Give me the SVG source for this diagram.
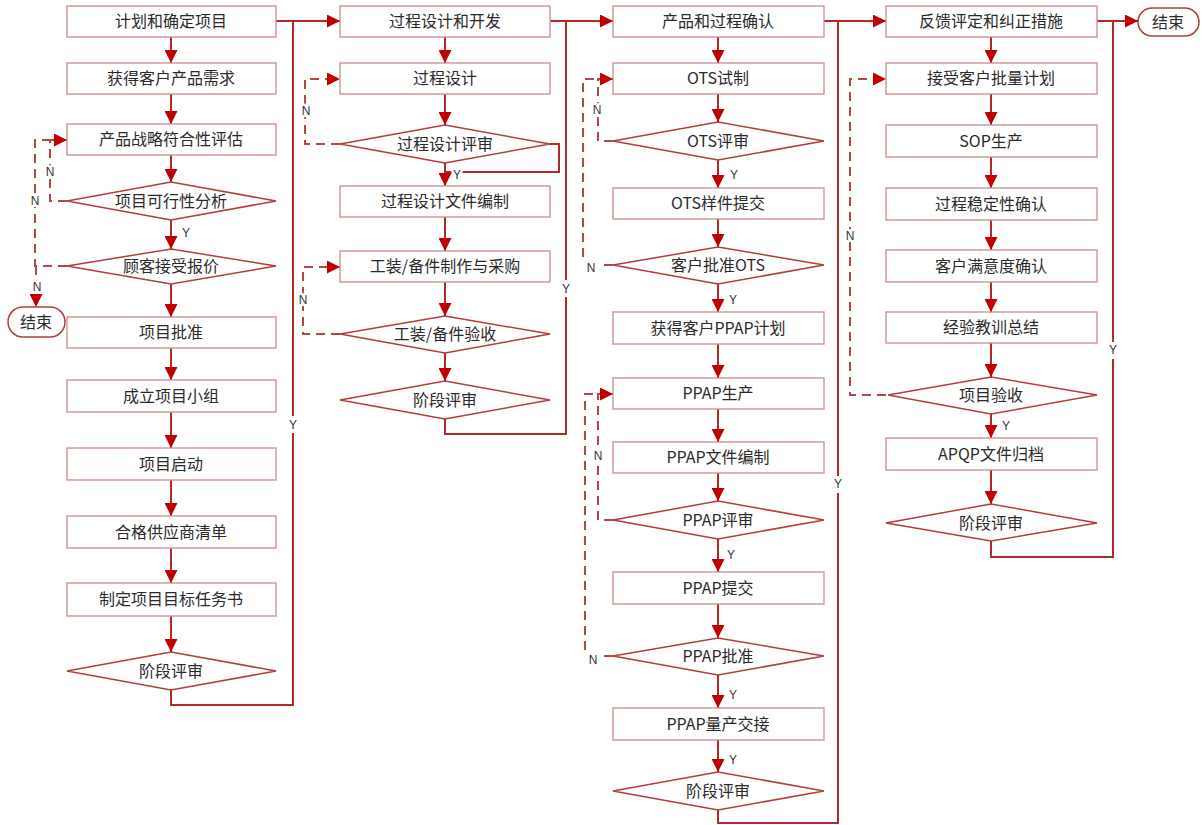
<svg xmlns="http://www.w3.org/2000/svg" width="1202" height="825" viewBox="0 0 1202 825">
<defs>
<style>
.box{fill:#fff;stroke:#CC8A8A;stroke-width:1.3}
.dia{fill:#fff;stroke:#B43C3C;stroke-width:1.5}
.term{fill:#fff;stroke:#B43C3C;stroke-width:1.5}
.t{font-family:"Noto Sans CJK SC","Noto Sans",sans-serif;font-size:16px;fill:#2a2a2a;text-anchor:middle}
.lb{font-family:"Liberation Sans","Noto Sans",sans-serif;font-size:12px;fill:#333;text-anchor:middle;stroke:#fff;stroke-width:5px;paint-order:stroke;stroke-linejoin:round}
.ln{fill:none;stroke:#B02A2A;stroke-width:2}
.ar{fill:none;stroke:#B02A2A;stroke-width:2;marker-end:url(#ah)}
.dl{fill:none;stroke:#B04848;stroke-width:2;stroke-dasharray:9 6}
.da{fill:none;stroke:#B04848;stroke-width:2;stroke-dasharray:9 6;marker-end:url(#ah)}
</style>
<marker id="ah" viewBox="0 0 10 10" refX="10" refY="5" markerWidth="6.5" markerHeight="6.5" orient="auto" markerUnits="strokeWidth">
<path d="M0,0 L10,5 L0,10 z" fill="#C00000"/>
</marker>
</defs>

<g id="connectors">
<!-- column 1 -->
<path class="ar" d="M171,37 V63"/>
<path class="ar" d="M171,94 V124"/>
<path class="ar" d="M171,155 V182"/>
<path class="ar" d="M171,220 V249"/>
<path class="ar" d="M171,284 V317"/>
<path class="ar" d="M171,348 V380"/>
<path class="ar" d="M171,412 V448"/>
<path class="ar" d="M171,480 V516"/>
<path class="ar" d="M171,548 V583"/>
<path class="ar" d="M171,616 V652"/>
<path class="ln" d="M171,690 V705 H293 V433 M293,416 V21 M276,21 H293"/>
<path class="ar" d="M293,21 H340"/>
<path class="da" d="M67,201 H50 V140 H67"/>
<path class="dl" d="M67,266 H35 V140 H50"/>
<path class="da" d="M36,266 V307"/>
<!-- column 2 -->
<path class="ar" d="M445,37 V63"/>
<path class="ar" d="M445,94 V125"/>
<path class="ar" d="M445,163 V186"/>
<path class="ln" d="M550,144 H559 V172 H445"/>
<path class="ar" d="M445,217 V251"/>
<path class="ar" d="M445,282 V316"/>
<path class="ar" d="M445,353 V381"/>
<path class="ln" d="M445,419 V434 H566 V297 M566,280 V21 M550,21 H566"/>
<path class="ar" d="M566,21 H613"/>
<path class="da" d="M340,144 H305 V79 H340"/>
<path class="da" d="M340,334 H303 V267 H340"/>
<!-- column 3 -->
<path class="ar" d="M718,37 V63"/>
<path class="ar" d="M718,94 V122"/>
<path class="ar" d="M718,160 V188"/>
<path class="ar" d="M718,219 V247"/>
<path class="ar" d="M718,284 V312"/>
<path class="ar" d="M718,344 V378"/>
<path class="ar" d="M718,409 V442"/>
<path class="ar" d="M718,473 V501"/>
<path class="ar" d="M718,539 V572"/>
<path class="ar" d="M718,604 V638"/>
<path class="ar" d="M718,675 V708"/>
<path class="ar" d="M718,740 V772"/>
<path class="ln" d="M718,810 V823 H838 V493 M838,476 V21 M824,21 H838"/>
<path class="ar" d="M838,21 H886"/>
<path class="da" d="M613,141 H598 V79 H613"/>
<path class="dl" d="M613,265 H604 M583,257 V79 H598"/>
<path class="da" d="M613,520 H598 V394 H613"/>
<path class="dl" d="M613,656 H604 M585,650 V394 H598"/>
<!-- column 4 -->
<path class="ar" d="M991,37 V63"/>
<path class="ar" d="M991,94 V125"/>
<path class="ar" d="M991,157 V188"/>
<path class="ar" d="M991,220 V250"/>
<path class="ar" d="M991,282 V312"/>
<path class="ar" d="M991,343 V377"/>
<path class="ar" d="M991,414 V438"/>
<path class="ar" d="M991,470 V504"/>
<path class="ln" d="M991,541 V557 H1113 V359 M1113,342 V21 M1097,21 H1113"/>
<path class="ar" d="M1113,21 H1138"/>
<path class="da" d="M886,395 H850 V79 H886"/>
<!-- labels -->
<text class="lb" x="50" y="176">N</text>
<text class="lb" x="35" y="205">N</text>
<text class="lb" x="37" y="291">N</text>
<text class="lb" x="186" y="237">Y</text>
<text class="lb" x="293" y="429">Y</text>
<text class="lb" x="306" y="115">N</text>
<text class="lb" x="303" y="304">N</text>
<text class="lb" x="457" y="179">Y</text>
<text class="lb" x="566" y="293">Y</text>
<text class="lb" x="597" y="114">N</text>
<text class="lb" x="591" y="272">N</text>
<text class="lb" x="734" y="179">Y</text>
<text class="lb" x="733" y="304">Y</text>
<text class="lb" x="598" y="460">N</text>
<text class="lb" x="731" y="559">Y</text>
<text class="lb" x="593" y="664">N</text>
<text class="lb" x="733" y="699">Y</text>
<text class="lb" x="733" y="764">Y</text>
<text class="lb" x="838" y="488">Y</text>
<text class="lb" x="850" y="240">N</text>
<text class="lb" x="1006" y="430">Y</text>
<text class="lb" x="1113" y="354">Y</text>
</g>

<!-- column 1 nodes -->
<g id="n1"><rect class="box" x="67" y="6" width="209" height="31"/><text class="t" x="171" y="27">计划和确定项目</text></g>
<g id="n2"><rect class="box" x="67" y="63" width="209" height="31"/><text class="t" x="171" y="84">获得客户产品需求</text></g>
<g id="n3"><rect class="box" x="67" y="124" width="209" height="31"/><text class="t" x="171" y="145">产品战略符合性评估</text></g>
<g id="n4"><polygon class="dia" points="67,201 171,182 276,201 171,220"/><text class="t" x="171" y="207">项目可行性分析</text></g>
<g id="n5"><polygon class="dia" points="67,266 171,249 276,266 171,284"/><text class="t" x="171" y="272">顾客接受报价</text></g>
<g id="end1"><rect class="term" x="8" y="307" width="57" height="30" rx="15"/><text class="t" x="36" y="328">结束</text></g>
<g id="n6"><rect class="box" x="67" y="317" width="209" height="31"/><text class="t" x="171" y="338">项目批准</text></g>
<g id="n7"><rect class="box" x="67" y="380" width="209" height="32"/><text class="t" x="171" y="402">成立项目小组</text></g>
<g id="n8"><rect class="box" x="67" y="448" width="209" height="32"/><text class="t" x="171" y="470">项目启动</text></g>
<g id="n9"><rect class="box" x="67" y="516" width="209" height="32"/><text class="t" x="171" y="538">合格供应商清单</text></g>
<g id="n10"><rect class="box" x="67" y="583" width="209" height="33"/><text class="t" x="171" y="605">制定项目目标任务书</text></g>
<g id="n11"><polygon class="dia" points="67,671 171,652 276,671 171,690"/><text class="t" x="171" y="677">阶段评审</text></g>

<!-- column 2 nodes -->
<g id="m1"><rect class="box" x="340" y="6" width="210" height="31"/><text class="t" x="445" y="27">过程设计和开发</text></g>
<g id="m2"><rect class="box" x="340" y="63" width="210" height="31"/><text class="t" x="445" y="84">过程设计</text></g>
<g id="m3"><polygon class="dia" points="340,144 445,125 550,144 445,163"/><text class="t" x="445" y="150">过程设计评审</text></g>
<g id="m4"><rect class="box" x="340" y="186" width="210" height="31"/><text class="t" x="445" y="207">过程设计文件编制</text></g>
<g id="m5"><rect class="box" x="340" y="251" width="210" height="31"/><text class="t" x="445" y="272">工装/备件制作与采购</text></g>
<g id="m6"><polygon class="dia" points="340,334 445,316 550,334 445,353"/><text class="t" x="445" y="340">工装/备件验收</text></g>
<g id="m7"><polygon class="dia" points="340,400 445,381 550,400 445,419"/><text class="t" x="445" y="406">阶段评审</text></g>

<!-- column 3 nodes -->
<g id="p1"><rect class="box" x="613" y="6" width="211" height="31"/><text class="t" x="718" y="27">产品和过程确认</text></g>
<g id="p2"><rect class="box" x="613" y="63" width="211" height="31"/><text class="t" x="718" y="84">OTS试制</text></g>
<g id="p3"><polygon class="dia" points="613,141 718,122 824,141 718,160"/><text class="t" x="718" y="147">OTS评审</text></g>
<g id="p4"><rect class="box" x="613" y="188" width="211" height="31"/><text class="t" x="718" y="209">OTS样件提交</text></g>
<g id="p5"><polygon class="dia" points="613,265 718,247 824,265 718,284"/><text class="t" x="718" y="271">客户批准OTS</text></g>
<g id="p6"><rect class="box" x="613" y="312" width="211" height="32"/><text class="t" x="718" y="334">获得客户PPAP计划</text></g>
<g id="p7"><rect class="box" x="613" y="378" width="211" height="31"/><text class="t" x="718" y="399">PPAP生产</text></g>
<g id="p8"><rect class="box" x="613" y="442" width="211" height="31"/><text class="t" x="718" y="463">PPAP文件编制</text></g>
<g id="p9"><polygon class="dia" points="613,520 718,501 824,520 718,539"/><text class="t" x="718" y="526">PPAP评审</text></g>
<g id="p10"><rect class="box" x="613" y="572" width="211" height="32"/><text class="t" x="718" y="594">PPAP提交</text></g>
<g id="p11"><polygon class="dia" points="613,656 718,638 824,656 718,675"/><text class="t" x="718" y="662">PPAP批准</text></g>
<g id="p12"><rect class="box" x="613" y="708" width="211" height="32"/><text class="t" x="718" y="730">PPAP量产交接</text></g>
<g id="p13"><polygon class="dia" points="613,791 718,772 824,791 718,810"/><text class="t" x="718" y="797">阶段评审</text></g>

<!-- column 4 nodes -->
<g id="q1"><rect class="box" x="886" y="6" width="211" height="31"/><text class="t" x="991" y="27">反馈评定和纠正措施</text></g>
<g id="q2"><rect class="box" x="886" y="63" width="211" height="31"/><text class="t" x="991" y="84">接受客户批量计划</text></g>
<g id="q3"><rect class="box" x="886" y="125" width="211" height="32"/><text class="t" x="991" y="147">SOP生产</text></g>
<g id="q4"><rect class="box" x="886" y="188" width="211" height="32"/><text class="t" x="991" y="210">过程稳定性确认</text></g>
<g id="q5"><rect class="box" x="886" y="250" width="211" height="32"/><text class="t" x="991" y="272">客户满意度确认</text></g>
<g id="q6"><rect class="box" x="886" y="312" width="211" height="31"/><text class="t" x="991" y="333">经验教训总结</text></g>
<g id="q7"><polygon class="dia" points="888,395 991,377 1097,395 991,414"/><text class="t" x="991" y="401">项目验收</text></g>
<g id="q8"><rect class="box" x="886" y="438" width="211" height="32"/><text class="t" x="991" y="460">APQP文件归档</text></g>
<g id="q9"><polygon class="dia" points="886,523 991,504 1097,523 991,541"/><text class="t" x="991" y="529">阶段评审</text></g>
<g id="end2"><rect class="term" x="1138" y="8" width="61" height="28" rx="14"/><text class="t" x="1168" y="28">结束</text></g>
</svg>
